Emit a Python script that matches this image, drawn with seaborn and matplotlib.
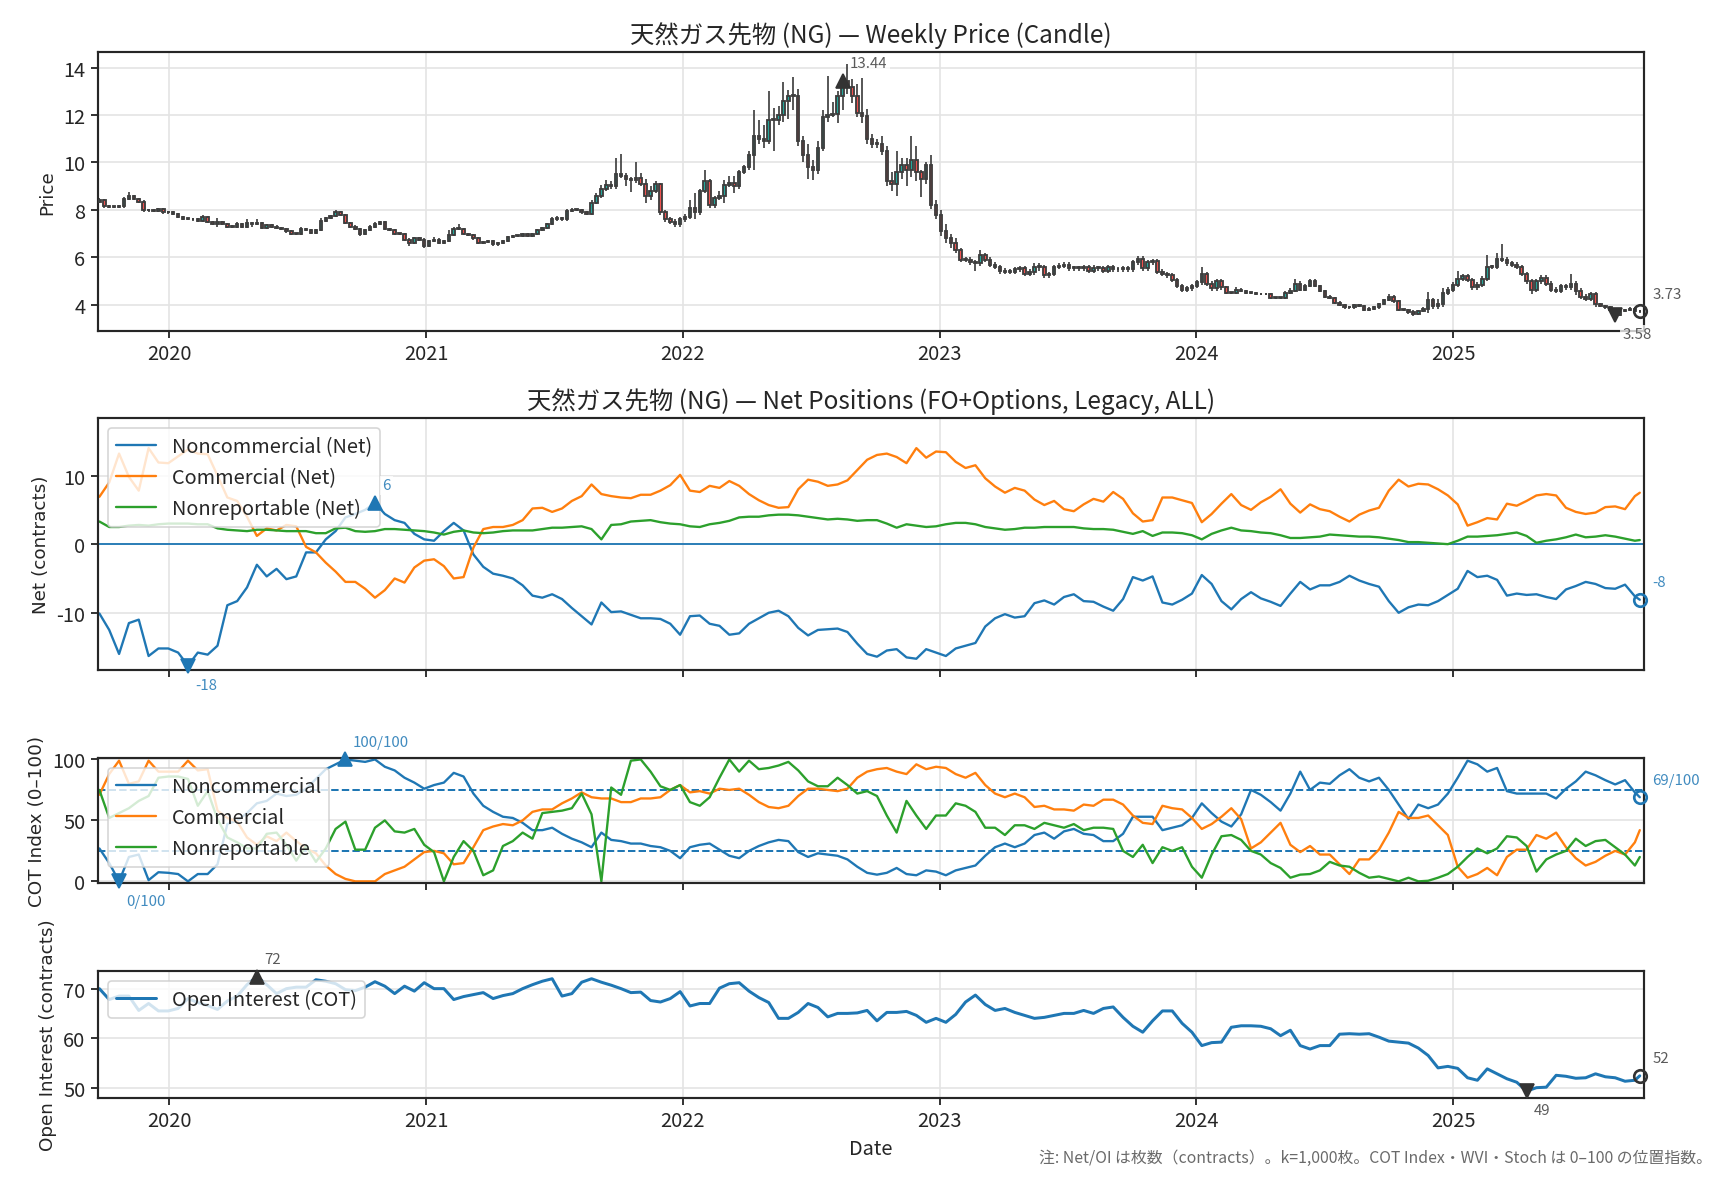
import numpy as np
import pandas as pd
import matplotlib
matplotlib.use("Agg")
import matplotlib.pyplot as plt
import matplotlib.dates as mdates
import seaborn as sns

# ---------------- data ----------------
start_date = "2019-09-24"
n_weeks = 314
first_open = 8.35
price_close = [
    8.41, 8.15, 8.13, 8.13, 8.15, 8.45, 8.6, 8.45, 8.35, 7.98,
    7.98, 7.95, 8.03, 7.9, 7.9, 7.82, 7.7, 7.63, 7.63, 7.6,
    7.53, 7.7, 7.5, 7.42, 7.5, 7.4, 7.3, 7.3, 7.4, 7.3,
    7.45, 7.4, 7.45, 7.25, 7.35, 7.3, 7.25, 7.2, 7.1, 7.0,
    7.0, 7.2, 7.15, 7.05, 7.15, 7.55, 7.65, 7.75, 7.9, 7.8,
    7.45, 7.3, 7.2, 7.0, 7.15, 7.3, 7.4, 7.5, 7.2, 7.15,
    7.0, 7.0, 6.75, 6.6, 6.8, 6.75, 6.5, 6.7, 6.75, 6.6,
    6.7, 6.95, 7.2, 7.2, 7.0, 6.95, 6.8, 6.6, 6.65, 6.7,
    6.55, 6.6, 6.7, 6.85, 6.9, 6.9, 7.0, 6.9, 7.0, 7.15,
    7.25, 7.4, 7.6, 7.65, 7.6, 7.95, 8.0, 8.0, 7.9, 7.85,
    8.3, 8.6, 8.9, 9.05, 9.0, 9.5, 9.45, 9.3, 9.25, 9.35,
    9.1, 8.6, 8.8, 9.1, 7.9, 7.6, 7.5, 7.4, 7.6, 7.7,
    8.1, 7.9, 8.8, 9.2, 8.2, 8.5, 8.6, 9.05, 9.15, 9.0,
    9.6, 9.8, 10.3, 11.1, 11.0, 10.9, 11.8, 11.8, 12.0, 12.6,
    12.8, 12.8, 10.9, 10.3, 9.8, 9.7, 10.6, 11.9, 12.0, 12.05,
    12.8, 13.44, 13.2, 12.8, 12.1, 11.95, 11.0, 10.8, 10.8, 10.5,
    9.2, 9.1, 9.6, 9.9, 9.7, 10.1, 9.6, 9.3, 9.9, 8.2,
    7.8, 7.1, 6.8, 6.6, 6.3, 5.9, 5.9, 5.8, 5.75, 6.1,
    5.9, 5.7, 5.6, 5.45, 5.4, 5.4, 5.5, 5.55, 5.3, 5.4,
    5.6, 5.6, 5.25, 5.3, 5.6, 5.65, 5.7, 5.55, 5.55, 5.55,
    5.6, 5.45, 5.55, 5.55, 5.45, 5.6, 5.5, 5.5, 5.55, 5.5,
    5.8, 5.95, 5.55, 5.8, 5.85, 5.4, 5.3, 5.25, 5.05, 4.8,
    4.65, 4.7, 4.8, 4.95, 5.3, 4.9, 4.7, 5.0, 4.75, 4.5,
    4.5, 4.65, 4.6, 4.5, 4.5, 4.45, 4.45, 4.45, 4.3, 4.3,
    4.3, 4.5, 4.6, 4.9, 4.65, 4.8, 5.0, 4.8, 4.6, 4.35,
    4.3, 4.1, 4.0, 3.9, 3.9, 4.0, 3.95, 3.8, 3.85, 3.9,
    4.05, 4.2, 4.35, 4.15, 3.8, 3.8, 3.72, 3.62, 3.75, 3.85,
    4.2, 3.95, 4.05, 4.5, 4.65, 4.85, 5.1, 5.2, 5.05, 4.75,
    4.85, 5.1, 5.6, 5.6, 5.95, 5.9, 5.75, 5.7, 5.6, 5.3,
    5.0, 4.65, 5.0, 5.15, 4.9, 4.65, 4.6, 4.8, 4.75, 4.9,
    4.6, 4.35, 4.25, 4.45, 4.05, 3.95, 3.9, 3.8, 3.58, 3.75,
    3.8, 3.85, 3.75, 3.73,
]
wick_up = [
    0.1, 0.05, 0.05, 0.05, 0.05, 0.1, 0.15, 0.05, 0.05, 0.05,
    0.05, 0.05, 0.05, 0.05, 0.05, 0.05, 0.05, 0.05, 0.05, 0.05,
    0.05, 0.1, 0.05, 0.05, 0.15, 0.05, 0.05, 0.05, 0.1, 0.05,
    0.15, 0.05, 0.15, 0.05, 0.05, 0.05, 0.05, 0.05, 0.05, 0.05,
    0.05, 0.1, 0.05, 0.05, 0.05, 0.1, 0.05, 0.05, 0.1, 0.05,
    0.05, 0.05, 0.05, 0.05, 0.05, 0.05, 0.1, 0.05, 0.05, 0.05,
    0.05, 0.05, 0.05, 0.05, 0.05, 0.05, 0.05, 0.05, 0.1, 0.05,
    0.05, 0.2, 0.1, 0.2, 0.05, 0.05, 0.05, 0.05, 0.05, 0.05,
    0.05, 0.05, 0.05, 0.05, 0.05, 0.05, 0.05, 0.05, 0.05, 0.05,
    0.05, 0.05, 0.1, 0.1, 0.05, 0.1, 0.1, 0.05, 0.05, 0.05,
    0.1, 0.1, 0.15, 0.2, 0.15, 0.7, 0.85, 0.1, 0.1, 0.65,
    0.2, 0.2, 0.2, 0.1, 0.05, 0.1, 0.1, 0.1, 0.1, 0.15,
    0.3, 0.6, 0.1, 0.5, 0.1, 0.1, 0.2, 0.2, 0.3, 0.3,
    0.1, 0.1, 0.2, 1.1, 0.7, 0.6, 1.2, 0.5, 0.4, 0.8,
    0.25, 0.8, 0.3, 0.2, 0.5, 0.3, 0.3, 0.3, 1.65, 0.5,
    0.2, 0.25, 0.7, 0.3, 0.5, 1.45, 0.3, 0.2, 0.2, 0.3,
    0.2, 0.4, 0.9, 0.3, 0.3, 1.0, 0.6, 0.1, 0.1, 0.4,
    0.2, 0.2, 0.3, 0.2, 0.2, 0.1, 0.1, 0.1, 0.1, 0.2,
    0.1, 0.1, 0.1, 0.1, 0.1, 0.1, 0.1, 0.1, 0.1, 0.1,
    0.15, 0.15, 0.1, 0.1, 0.1, 0.1, 0.1, 0.1, 0.1, 0.1,
    0.1, 0.1, 0.15, 0.1, 0.1, 0.1, 0.1, 0.1, 0.1, 0.1,
    0.1, 0.1, 0.1, 0.1, 0.1, 0.1, 0.1, 0.1, 0.1, 0.1,
    0.1, 0.1, 0.1, 0.1, 0.3, 0.1, 0.1, 0.1, 0.1, 0.05,
    0.05, 0.1, 0.05, 0.05, 0.05, 0.05, 0.05, 0.05, 0.05, 0.05,
    0.05, 0.1, 0.1, 0.2, 0.1, 0.1, 0.1, 0.1, 0.05, 0.05,
    0.05, 0.05, 0.05, 0.05, 0.05, 0.05, 0.05, 0.05, 0.05, 0.05,
    0.05, 0.05, 0.1, 0.05, 0.05, 0.05, 0.05, 0.05, 0.05, 0.05,
    0.35, 0.1, 0.2, 0.2, 0.1, 0.1, 0.35, 0.1, 0.1, 0.1,
    0.1, 0.1, 0.5, 0.1, 0.25, 0.6, 0.1, 0.1, 0.1, 0.1,
    0.1, 0.1, 0.1, 0.1, 0.1, 0.1, 0.1, 0.1, 0.1, 0.4,
    0.1, 0.1, 0.1, 0.1, 0.1, 0.05, 0.05, 0.05, 0.05, 0.05,
    0.05, 0.05, 0.05, 0.05,
]
wick_dn = [
    0.05, 0.05, 0.05, 0.05, 0.05, 0.05, 0.05, 0.05, 0.05, 0.05,
    0.05, 0.05, 0.05, 0.05, 0.05, 0.05, 0.05, 0.05, 0.05, 0.05,
    0.05, 0.05, 0.05, 0.05, 0.15, 0.05, 0.05, 0.05, 0.05, 0.05,
    0.05, 0.1, 0.05, 0.05, 0.05, 0.05, 0.05, 0.05, 0.05, 0.05,
    0.05, 0.05, 0.05, 0.05, 0.05, 0.05, 0.05, 0.05, 0.05, 0.05,
    0.05, 0.05, 0.05, 0.1, 0.05, 0.05, 0.05, 0.05, 0.05, 0.05,
    0.05, 0.05, 0.05, 0.1, 0.05, 0.05, 0.1, 0.05, 0.05, 0.05,
    0.05, 0.05, 0.05, 0.05, 0.05, 0.05, 0.05, 0.05, 0.05, 0.05,
    0.05, 0.05, 0.05, 0.05, 0.05, 0.05, 0.05, 0.05, 0.05, 0.05,
    0.05, 0.05, 0.05, 0.05, 0.05, 0.05, 0.05, 0.05, 0.05, 0.05,
    0.05, 0.05, 0.1, 0.1, 0.1, 0.1, 0.1, 0.3, 0.5, 0.1,
    0.1, 0.3, 0.2, 0.1, 0.1, 0.1, 0.1, 0.1, 0.1, 0.1,
    0.1, 0.3, 0.1, 0.1, 0.1, 0.1, 0.1, 0.3, 0.1, 0.3,
    0.1, 0.1, 0.1, 0.6, 0.2, 0.3, 0.1, 1.3, 0.2, 0.3,
    0.75, 0.6, 0.2, 0.3, 0.5, 0.45, 0.2, 0.1, 0.2, 0.1,
    0.4, 0.6, 0.3, 0.3, 0.2, 0.3, 0.2, 0.2, 0.2, 0.2,
    0.2, 0.3, 0.5, 0.3, 0.7, 0.3, 0.4, 0.75, 0.2, 0.15,
    0.2, 0.2, 0.2, 0.2, 0.1, 0.1, 0.1, 0.1, 0.3, 0.1,
    0.1, 0.1, 0.1, 0.15, 0.1, 0.1, 0.1, 0.1, 0.1, 0.1,
    0.15, 0.15, 0.1, 0.1, 0.1, 0.1, 0.1, 0.1, 0.1, 0.1,
    0.1, 0.1, 0.1, 0.1, 0.1, 0.1, 0.1, 0.1, 0.1, 0.1,
    0.1, 0.1, 0.1, 0.1, 0.1, 0.1, 0.1, 0.1, 0.1, 0.1,
    0.1, 0.1, 0.1, 0.1, 0.1, 0.1, 0.1, 0.1, 0.1, 0.05,
    0.05, 0.05, 0.05, 0.05, 0.05, 0.05, 0.05, 0.05, 0.05, 0.05,
    0.05, 0.05, 0.05, 0.05, 0.05, 0.05, 0.05, 0.05, 0.05, 0.05,
    0.05, 0.05, 0.05, 0.05, 0.05, 0.05, 0.05, 0.05, 0.05, 0.05,
    0.05, 0.05, 0.05, 0.05, 0.05, 0.05, 0.1, 0.1, 0.05, 0.05,
    0.2, 0.1, 0.1, 0.15, 0.1, 0.1, 0.1, 0.1, 0.1, 0.1,
    0.1, 0.1, 0.1, 0.1, 0.1, 0.1, 0.1, 0.1, 0.1, 0.1,
    0.1, 0.2, 0.1, 0.1, 0.1, 0.1, 0.1, 0.1, 0.1, 0.1,
    0.2, 0.1, 0.1, 0.1, 0.15, 0.05, 0.05, 0.05, 0.1, 0.05,
    0.05, 0.05, 0.05, 0.05,
]

# COT series, read every second week (+ the last week), in thousands of contracts
cot_weeks = list(range(0, 313, 2)) + [313]
net_noncomm = [
    -10.1, -12.5, -16.0, -11.5, -11.0, -16.3, -15.2, -15.2, -15.8, -17.7,
    -15.8, -16.1, -14.8, -8.9, -8.3, -6.3, -3.0, -4.7, -3.6, -5.1,
    -4.7, -1.2, -1.2, 0.7, 1.9, 3.9, 4.4, 5.0, 6.0, 4.4,
    3.5, 3.1, 1.5, 0.7, 0.5, 1.9, 3.1, 2.0, -1.5, -3.3,
    -4.3, -4.6, -5.0, -6.0, -7.5, -7.8, -7.3, -8.0, -9.3, -10.5,
    -11.7, -8.5, -9.9, -9.8, -10.3, -10.8, -10.8, -10.9, -11.6, -13.2,
    -10.5, -10.4, -11.6, -11.9, -13.2, -13.0, -11.6, -10.8, -10.0, -9.7,
    -10.5, -12.2, -13.3, -12.5, -12.4, -12.3, -12.8, -14.5, -16.0, -16.4,
    -15.5, -15.3, -16.5, -16.7, -15.3, -15.8, -16.3, -15.2, -14.8, -14.4,
    -12.0, -10.8, -10.2, -10.7, -10.5, -8.6, -8.2, -8.8, -7.7, -7.3,
    -8.3, -8.4, -9.1, -9.7, -8.0, -4.8, -5.3, -4.7, -8.5, -8.8,
    -8.1, -7.2, -4.5, -5.8, -8.3, -9.5, -8.0, -7.0, -7.9, -8.4,
    -9.0, -7.2, -5.5, -6.6, -6.0, -6.0, -5.5, -4.6, -5.3, -5.8,
    -6.2, -8.3, -10.0, -9.2, -8.8, -8.9, -8.3, -7.4, -6.5, -3.9,
    -4.8, -4.6, -5.2, -7.5, -7.2, -7.4, -7.3, -7.7, -8.0, -6.6,
    -6.1, -5.5, -5.8, -6.4, -6.5, -5.9, -7.6,
    -8.1,
]
net_comm = [
    6.9, 9.0, 13.2, 9.8, 7.8, 14.0, 11.9, 11.8, 12.8, 13.8,
    13.2, 13.1, 10.0, 6.8, 6.3, 4.0, 1.2, 2.3, 2.0, 2.8,
    2.6, -0.4, -1.2, -2.7, -4.0, -5.5, -5.5, -6.5, -7.8, -6.7,
    -5.0, -5.6, -3.4, -2.4, -2.2, -3.2, -5.0, -4.8, -0.5, 2.2,
    2.5, 2.5, 2.8, 3.5, 5.2, 5.3, 4.7, 5.2, 6.3, 7.0,
    8.7, 7.3, 7.0, 6.8, 6.7, 7.2, 7.2, 7.8, 8.6, 10.1,
    7.8, 7.6, 8.5, 8.2, 9.2, 8.5, 7.3, 6.4, 5.7, 5.3,
    5.4, 8.0, 9.4, 9.1, 8.5, 8.7, 9.3, 10.8, 12.3, 13.0,
    13.2, 12.7, 11.8, 14.0, 12.6, 13.5, 13.4, 12.0, 11.1, 11.5,
    9.6, 8.4, 7.5, 8.2, 7.8, 6.5, 5.7, 6.3, 5.1, 4.8,
    5.8, 6.6, 6.2, 7.6, 6.6, 4.5, 3.3, 3.5, 6.8, 6.8,
    6.4, 6.0, 3.2, 4.4, 5.9, 7.3, 5.7, 5.0, 6.1, 6.9,
    8.0, 5.9, 4.6, 5.8, 5.1, 4.8, 4.0, 3.3, 4.3, 4.9,
    5.3, 7.8, 9.4, 8.4, 8.8, 8.7, 8.0, 7.1, 5.8, 2.7,
    3.2, 3.8, 3.6, 5.9, 5.6, 6.3, 7.1, 7.3, 7.1, 5.3,
    4.7, 4.4, 4.6, 5.4, 5.5, 5.1, 7.0,
    7.5,
]
net_nonrep = [
    3.3, 2.5, 2.5, 2.7, 2.8, 2.7, 2.9, 3.0, 3.0, 3.0,
    2.9, 2.9, 2.3, 2.1, 2.0, 1.9, 2.1, 2.1, 2.0, 1.9,
    1.9, 1.9, 1.6, 1.6, 2.3, 2.4, 1.9, 1.8, 1.9, 2.2,
    2.2, 2.1, 2.0, 1.9, 1.7, 1.4, 1.8, 2.0, 1.7, 1.6,
    1.7, 1.9, 2.0, 2.0, 2.0, 2.2, 2.4, 2.4, 2.5, 2.6,
    2.2, 0.7, 2.8, 2.9, 3.3, 3.4, 3.5, 3.2, 3.0, 2.9,
    2.6, 2.5, 2.9, 3.1, 3.4, 3.9, 4.0, 4.0, 4.2, 4.3,
    4.3, 4.2, 4.0, 3.8, 3.6, 3.7, 3.6, 3.4, 3.5, 3.5,
    3.0, 2.4, 2.9, 2.7, 2.5, 2.6, 2.9, 3.1, 3.1, 2.9,
    2.5, 2.3, 2.1, 2.2, 2.4, 2.4, 2.5, 2.5, 2.5, 2.5,
    2.3, 2.2, 2.2, 2.1, 1.8, 1.5, 1.9, 1.2, 1.7, 1.7,
    1.6, 1.3, 0.7, 1.5, 2.0, 2.4, 2.0, 1.9, 1.7, 1.6,
    1.3, 0.9, 0.9, 1.0, 1.1, 1.4, 1.3, 1.2, 1.1, 1.1,
    1.0, 0.8, 0.6, 0.3, 0.3, 0.2, 0.1, 0.0, 0.5, 1.1,
    1.1, 1.2, 1.3, 1.5, 1.7, 1.2, 0.2, 0.5, 0.7, 1.0,
    1.4, 1.0, 1.1, 1.3, 1.1, 0.8, 0.5,
    0.6,
]
cot_noncomm = [
    27, 15, 0, 20, 22, 1, 7.5, 7, 6, 0,
    6, 6, 14, 47, 50, 56, 64, 66, 72, 70,
    71, 76, 84, 92, 96, 100, 99, 98, 100, 94,
    91, 85, 81, 76, 79, 81, 89, 86, 72, 62,
    57, 53, 52, 48, 42, 42, 44, 39, 35, 32,
    28, 40, 34, 33, 31, 31, 29, 28, 25, 19,
    28, 30, 31, 26, 21, 19, 25, 29, 32, 34,
    33, 24, 20, 23, 22, 21, 18, 12, 7, 5.5,
    7, 11, 6, 5, 9, 8, 5, 9, 11, 13,
    21, 28, 31, 28, 31, 38, 40, 35, 41, 43,
    39, 38, 33, 33, 39, 53, 53, 53, 42, 44,
    46, 52, 64, 56, 49, 45, 55, 75, 71, 65,
    58, 72, 90, 75, 81, 80, 87, 92, 85, 82,
    85, 75, 63, 51, 63, 60, 63, 72, 85, 99,
    96, 90, 93, 74, 72, 72, 72, 72, 68, 76,
    82, 90, 87, 83, 79.5, 83, 73,
    69,
]
cot_comm = [
    71, 88, 99, 80, 82, 99, 90, 90, 90, 99,
    91, 92, 58, 52, 49, 36, 30, 37, 33, 40,
    33, 27, 23, 13, 6, 2, 0, 0, 0, 6,
    9, 12, 18, 24, 25, 23, 14, 15, 28, 42,
    45, 47, 46, 50, 57, 59, 59, 64, 68, 73,
    69, 68, 68, 65, 65, 68, 68, 69, 75, 79,
    73, 74, 72, 76, 75, 76, 71, 65, 61, 60,
    62, 70, 76, 76, 75, 74, 76, 85, 90, 92,
    93, 90, 88, 96, 92, 94, 93, 88, 85, 89,
    79, 72, 69, 72, 69, 61, 62, 59, 59, 58,
    63, 62, 67, 67, 63, 54, 48, 47, 62, 60,
    59, 52, 43, 47, 53, 60, 51, 27, 32, 40,
    48, 30, 24, 29, 22, 22, 14, 6, 18, 18,
    26, 40, 57, 52, 52, 54, 46, 38, 12, 3,
    6, 11, 5, 20, 26, 26, 38, 35, 40, 28,
    19, 13, 16, 21, 25, 22, 32,
    42,
]
cot_nonrep = [
    75, 52, 56, 60, 66, 70, 85, 86, 86, 84,
    62, 74, 51, 36, 32, 27, 27, 39, 40, 30,
    17, 29, 16, 27, 43, 49, 26, 26, 44, 50,
    41, 40, 43, 30, 24, 0, 20, 33, 25, 5,
    9, 29, 33, 40, 35, 56, 57, 58, 60, 72,
    55, 0, 77, 71, 99, 100, 90, 78, 75, 79,
    65, 62, 69, 85, 100, 90, 99, 92, 93, 95,
    98, 91, 82, 78, 78, 85, 79, 72, 74, 70,
    54, 40, 66, 54, 43, 54, 54, 64, 62, 57,
    44, 44, 38, 46, 46, 43, 48, 46, 44, 47,
    42, 44, 44, 43, 25, 20, 30, 15, 28, 25,
    28, 12, 3, 22, 37, 38, 34, 25, 22, 15,
    11, 3, 5.5, 6, 9, 16, 13, 12, 7, 3,
    4, 2, 0, 3, 0, 0.5, 3, 6, 12, 20,
    27, 23, 27, 37, 36, 29, 8, 18, 22, 25,
    35, 29, 33, 34, 28, 22, 13,
    20,
]
open_interest = [
    70, 67.8, 68.5, 68.5, 65.6, 67, 65.5, 65.5, 66, 68,
    67.2, 66.6, 65.8, 67.5, 68.5, 70.8, 72.4, 70.8, 69, 70,
    70.3, 70.3, 71.8, 71.5, 71, 69.8, 69.6, 70.3, 71.4, 70.5,
    69, 70.5, 69.5, 71.2, 70, 70, 67.8, 68.4, 68.8, 69.2,
    68, 68.6, 69, 70, 70.8, 71.5, 72, 68.5, 69, 71.3,
    72, 71.3, 70.7, 70, 69.2, 69.3, 67.6, 67.3, 68, 69.4,
    66.5, 67, 67, 70.1, 71, 71.2, 69.5, 68.2, 67.2, 64,
    64, 65.2, 67, 66.2, 64.3, 65, 65, 65.1, 65.6, 63.5,
    65.2, 65.2, 65.4, 64.6, 63.2, 64, 63.2, 64.8, 67.3, 68.7,
    66.8, 65.6, 66, 65.2, 64.6, 64, 64.2, 64.6, 65, 65,
    65.6, 65, 66, 66.3, 64.2, 62.4, 61.2, 63.5, 65.5, 65.5,
    63, 61.2, 58.5, 59.1, 59.2, 62.2, 62.5, 62.5, 62.4, 61.9,
    60.5, 61.6, 58.5, 57.8, 58.5, 58.5, 60.8, 60.9, 60.8, 60.9,
    60.2, 59.4, 59.2, 59, 58, 56.5, 54, 54.3, 53.9, 52,
    51.5, 53.8, 52.8, 51.8, 51.1, 49.3, 50, 50.1, 52.5, 52.3,
    51.9, 52, 52.8, 52.2, 52, 51.3, 51.5,
    52.4,
]

title_price = "天然ガス先物 (NG) — Weekly Price (Candle)"
title_net = "天然ガス先物 (NG) — Net Positions (FO+Options, Legacy, ALL)"
footnote = "注: Net/OI は枚数（contracts）。k=1,000枚。COT Index・WVI・Stoch は 0–100 の位置指数。"

# ---------------- style ----------------
sns.set_theme(style="ticks", rc={
    "axes.grid": True,
    "grid.color": "#e4e4e4",
    "grid.linewidth": 1.0,
    "axes.edgecolor": "#262626",
    "axes.linewidth": 1.3,
    "xtick.major.size": 4,
    "ytick.major.size": 4,
    "xtick.major.width": 1.1,
    "ytick.major.width": 1.1,
    "xtick.color": "#262626",
    "ytick.color": "#262626",
    "axes.labelcolor": "#262626",
    "text.color": "#262626",
})
plt.rcParams["font.family"] = ["Noto Sans CJK JP", "DejaVu Sans"]
plt.rcParams["axes.unicode_minus"] = False

C0, C1, C2 = "#1f77b4", "#ff7f0e", "#2ca02c"
DARK = "#333333"
GRAYTXT = "#5a5a5a"

dates = pd.date_range(start_date, periods=n_weeks, freq="7D")
cdates = dates[cot_weeks]

close = np.array(price_close, dtype=float)
opn = np.r_[first_open, close[:-1]]
hi = np.maximum(opn, close) + np.array(wick_up)
lo = np.minimum(opn, close) - np.array(wick_dn)

fig = plt.figure(figsize=(14.4, 9.8333), dpi=120)
L, W = 0.0567, 0.8947
ax1 = fig.add_axes([L, 0.719, W, 0.236])
ax2 = fig.add_axes([L, 0.431, W, 0.214], sharex=ax1)
ax3 = fig.add_axes([L, 0.251, W, 0.106], sharex=ax1)
ax4 = fig.add_axes([L, 0.069, W, 0.107], sharex=ax1)

bbox = dict(boxstyle="square,pad=0.15", fc="white", ec="none", alpha=0.75)


def mark_points(ax, x, y, fmt, mcolor, tcolor, tcol_alpha=1.0):
    y = np.asarray(y, dtype=float)
    imax, imin = int(np.argmax(y)), int(np.argmin(y))
    kw = dict(textcoords="offset points", fontsize=9, color=tcolor, alpha=tcol_alpha,
              bbox=bbox, zorder=8, annotation_clip=False, ha="left", va="center")
    ax.plot([x[imax]], [y[imax]], ls="none", marker="^", ms=8, color=mcolor, zorder=7, clip_on=False)
    ax.annotate(fmt(y[imax]), (x[imax], y[imax]), xytext=(4.5, 10.5), **kw)
    ax.plot([x[imin]], [y[imin]], ls="none", marker="v", ms=8, color=mcolor, zorder=7, clip_on=False)
    ax.annotate(fmt(y[imin]), (x[imin], y[imin]), xytext=(4.5, -11.5), **kw)
    ax.plot([x[-1]], [y[-1]], ls="none", marker="o", ms=7.5, mfc="none", mec=mcolor, mew=1.6,
            zorder=7, clip_on=False)
    ax.annotate(fmt(y[-1]), (x[-1], y[-1]), xytext=(7.5, 10.5), **kw)


# ---- panel 1: candles ----
up = close >= opn
body_col = np.where(up, "#26a69a", "#ef5350")
body_h = np.maximum(np.abs(close - opn), 0.03)
ax1.vlines(dates, lo, hi, color="#3a3a3a", lw=1.0, zorder=2)
ax1.bar(dates, body_h, bottom=np.minimum(opn, close), width=3.6, color=body_col,
        edgecolor="#3d3d3d", linewidth=1.1, zorder=3)
mark_points(ax1, dates, close, lambda v: f"{v:.2f}", DARK, GRAYTXT)
ax1.set_ylim(2.92, 14.65)
ax1.set_yticks([4, 6, 8, 10, 12, 14])
ax1.set_ylabel("Price", family="DejaVu Sans", fontsize=11)
ax1.set_title(title_price, fontsize=14.6, pad=6)

# ---- panel 2: net positions ----
sns.lineplot(x=cdates, y=net_noncomm, ax=ax2, color=C0, lw=1.4, label="Noncommercial (Net)")
sns.lineplot(x=cdates, y=net_comm, ax=ax2, color=C1, lw=1.4, label="Commercial (Net)")
sns.lineplot(x=cdates, y=net_nonrep, ax=ax2, color=C2, lw=1.4, label="Nonreportable (Net)")
ax2.axhline(0, color=C0, lw=1.1, zorder=1.5)
mark_points(ax2, cdates, net_noncomm, lambda v: f"{v:.0f}", C0, C0, 0.85)
ax2.set_ylim(-18.4, 18.4)
ax2.set_yticks([-10, 0, 10])
ax2.set_ylabel("Net (contracts)", family="DejaVu Sans", fontsize=11)
ax2.set_title(title_net, fontsize=14.6, pad=6)
ax2.legend(loc="upper left", fontsize=12, framealpha=0.8, labelspacing=0.5)

# ---- panel 3: COT index ----
sns.lineplot(x=cdates, y=cot_noncomm, ax=ax3, color=C0, lw=1.4, label="Noncommercial")
sns.lineplot(x=cdates, y=cot_comm, ax=ax3, color=C1, lw=1.4, label="Commercial")
sns.lineplot(x=cdates, y=cot_nonrep, ax=ax3, color=C2, lw=1.4, label="Nonreportable")
ax3.axhline(75, color=C0, lw=1.2, ls="--", zorder=1.5)
ax3.axhline(25, color=C0, lw=1.2, ls="--", zorder=1.5)
mark_points(ax3, cdates, cot_noncomm, lambda v: f"{v:.0f}/100", C0, C0, 0.85)
ax3.set_ylim(-1.2, 101.4)
ax3.set_yticks([0, 50, 100])
ax3.set_ylabel("COT Index (0–100)", family="DejaVu Sans", fontsize=11)
ax3.legend(loc="upper left", fontsize=12, framealpha=0.8, labelspacing=0.5)

# ---- panel 4: open interest ----
sns.lineplot(x=cdates, y=open_interest, ax=ax4, color=C0, lw=1.8, label="Open Interest (COT)")
mark_points(ax4, cdates, open_interest, lambda v: f"{v:.0f}", DARK, GRAYTXT)
ax4.set_ylim(48.0, 73.5)
ax4.set_yticks([50, 60, 70])
ax4.set_ylabel("Open Interest (contracts)", family="DejaVu Sans", fontsize=11)
ax4.legend(loc="upper left", fontsize=12, framealpha=0.8)

for ax in (ax1, ax2, ax3, ax4):
    ax.xaxis.set_major_locator(mdates.YearLocator())
    ax.xaxis.set_major_formatter(mdates.DateFormatter("%Y"))
    ax.tick_params(labelsize=12)
    ax.grid(True, color="#e4e4e4", lw=1.0)
    ax.set_axisbelow(True)
    ax.set_xlabel("")
for ax in (ax2, ax3):
    ax.tick_params(labelbottom=False)
ax1.tick_params(labelbottom=True)
ax4.set_xlabel("Date", fontsize=12)
ax1.set_xlim(pd.Timestamp("2019-09-22"), pd.Timestamp("2025-09-29"))

fig.text(0.9905, 0.018, footnote, ha="right", va="center", fontsize=9.5, color="#6a6a6a")

fig.savefig("out.png", dpi=120)
